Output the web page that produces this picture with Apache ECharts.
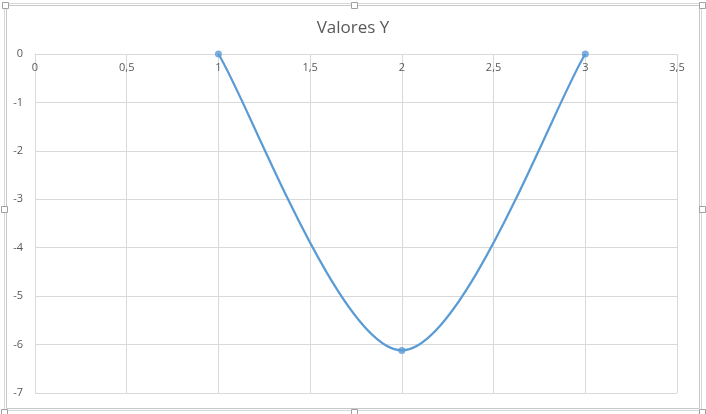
<!DOCTYPE html>
<html><head><meta charset="utf-8">
<script src="https://cdn.jsdelivr.net/npm/echarts@6/dist/echarts.min.js"></script>
<style>html,body{margin:0;padding:0;background:#fff}#c{width:706px;height:414px}</style>
</head><body><div id="c"></div>
<script>
const xValues = [1, 2, 3];
const yValues = [0, -6.12, 0];
const titleText = 'Valores Y';

const chart = echarts.init(document.getElementById('c'));
const fmt = v => String(v).replace('.', ',');
const handles = [[3,2],[352,2],[700,2],[2,206],[700,206],[2,409],[352,409],[700,409]];
const pts = xValues.map((x, i) => [x, yValues[i]]);
const blue = '#5B9BD5';

// Excel-style smoothed scatter line: cubic Bezier segments, tangent = (P[i+1]-P[i-1])/6
function renderSeg(params, api) {
  const i = params.dataIndex;
  if (i >= pts.length - 1) return null;
  const P = k => api.coord(pts[Math.max(0, Math.min(pts.length - 1, k))]);
  const p0 = P(i - 1), p1 = P(i), p2 = P(i + 1), p3 = P(i + 2);
  return {
    type: 'bezierCurve',
    shape: {
      x1: p1[0], y1: p1[1], x2: p2[0], y2: p2[1],
      cpx1: p1[0] + (p2[0] - p0[0]) / 6, cpy1: p1[1] + (p2[1] - p0[1]) / 6,
      cpx2: p2[0] - (p3[0] - p1[0]) / 6, cpy2: p2[1] - (p3[1] - p1[1]) / 6
    },
    style: {fill: null, stroke: blue, lineWidth: 2.25},
    silent: true
  };
}

chart.setOption({
  animation: false,
  title: {text: titleText, left: 'center', top: 15, textStyle: {fontFamily: 'Open Sans', fontSize: 17, fontWeight: 'normal', color: '#595959'}},
  grid: {left: 35, right: 29, top: 54, bottom: 21},
  xAxis: {type: 'value', position: 'top', min: 0, max: 3.5, interval: 0.5,
    axisLine: {show: true, onZero: false, lineStyle: {color: '#d9d9d9'}},
    axisTick: {show: false},
    axisLabel: {inside: true, margin: 8, color: '#595959', fontFamily: 'Open Sans', fontSize: 11, formatter: fmt},
    splitLine: {show: true, lineStyle: {color: '#d9d9d9'}}},
  yAxis: {type: 'value', min: -7, max: 0, interval: 1,
    axisLine: {show: true, lineStyle: {color: '#d9d9d9'}},
    axisTick: {show: false},
    axisLabel: {margin: 12, color: '#595959', fontFamily: 'Open Sans', fontSize: 11},
    splitLine: {show: true, lineStyle: {color: '#d9d9d9'}}},
  graphic: [
    {type: 'rect', shape: {x: 6.5, y: 5.5, width: 693, height: 403}, style: {fill: 'none', stroke: '#c8c8c8', lineWidth: 1}, silent: true},
    {type: 'rect', shape: {x: 4.5, y: 3.5, width: 697, height: 407}, style: {fill: 'none', stroke: '#d8d8d8', lineWidth: 1}, silent: true},
    ...handles.map(h => ({type: 'rect', shape: {x: h[0] - 0.5, y: h[1] + 0.5, width: 6, height: 6}, style: {fill: '#fff', stroke: '#a0a0a0', lineWidth: 1}, silent: true}))
  ],
  series: [
    {type: 'custom', data: pts, renderItem: renderSeg, clip: false, z: 2},
    {type: 'scatter', data: pts, symbol: 'circle', symbolSize: 7, itemStyle: {color: blue}, z: 3}
  ]
});
</script></body></html>
